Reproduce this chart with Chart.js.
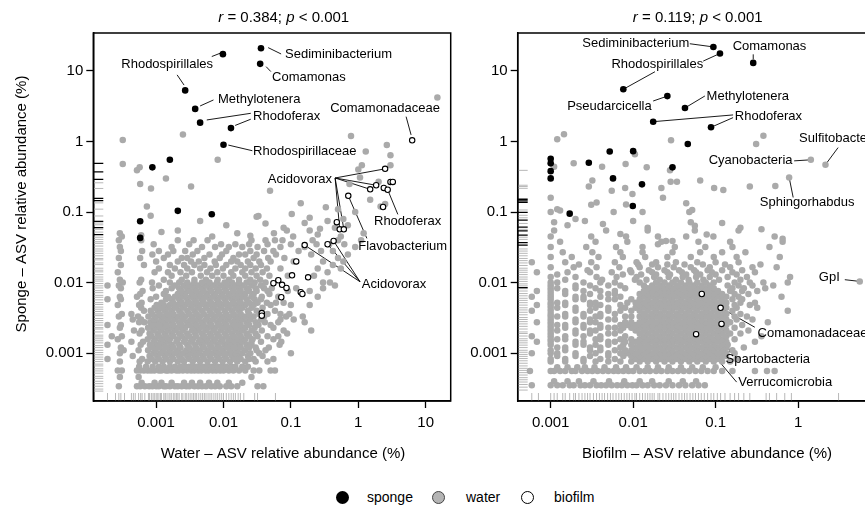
<!DOCTYPE html>
<html><head><meta charset="utf-8">
<script src="https://cdn.jsdelivr.net/npm/chart.js@4"></script>
<style>
html,body{margin:0;padding:0;background:#fff;overflow:hidden;width:865px;height:507px;position:relative;font-family:'Liberation Sans',Arial,Helvetica,sans-serif;}
canvas{position:absolute;top:0;}
#cA{left:0;}
#cB{left:460px;}
.lg{position:absolute;top:489px;height:16px;line-height:16px;font-size:14px;color:#000;white-space:nowrap;}
.dot{position:absolute;width:13px;height:13px;border-radius:50%;box-sizing:border-box;top:490.5px;}
</style></head><body>
<canvas id="cA" width="470" height="470"></canvas>
<canvas id="cB" width="430" height="470"></canvas>
<div class="dot" style="left:335.5px;background:#000;"></div><div class="lg" style="left:367px;">sponge</div>
<div class="dot" style="left:431.5px;background:#b4b4b4;border:1.3px solid #444;"></div><div class="lg" style="left:466px;">water</div>
<div class="dot" style="left:520.5px;background:#fff;border:1.3px solid #000;"></div><div class="lg" style="left:554px;">biofilm</div>
<script>
// ---------------- DATA ----------------
const decadeTicks = [0.001, 0.01, 0.1, 1, 10];
const decadeLabels = ['0.001', '0.01', '0.1', '1', '10'];

// Left panel: water (x) vs sponge (y). Gray cloud given as rows [sponge %, [water % ...]]
const waterCloud = [
 [0.00034,[0.00028,0.00052,0.00058,0.00068,0.00079,0.00088,0.001,0.0011,0.0013,0.0014,0.0016,0.0019,0.0021,0.0024,0.0028,0.0031,0.0037,0.0042,0.0048,0.0055,0.0066,0.0075,0.0088,0.011,0.013,0.016,0.032,0.039]],
 [0.00038,[0.00061,0.00095,0.0012,0.0017,0.0026,0.0034,0.0045,0.0061,0.0081,0.012,0.019]],
 [0.00046,[0.00029,0.00055,0.026]],
 [0.00057,[0.00027,0.00031,0.00052,0.00058,0.00066,0.00075,0.00084,0.00094,0.0011,0.0012,0.0014,0.0015,0.0017,0.002,0.0022,0.0025,0.0029,0.0033,0.0037,0.0042,0.0047,0.0054,0.006,0.0069,0.0078,0.0089,0.01,0.012,0.014,0.017,0.021,0.028,0.034,0.05,0.058]],
 [0.00064,[0.00056,0.00071,0.00089,0.0011,0.0013,0.0016,0.0019,0.0023,0.0027,0.0031,0.0035,0.004,0.0045,0.0051,0.0058,0.0066,0.0073,0.0083,0.0095,0.011,0.013,0.015,0.019,0.023]],
 [0.00076,[0.00029,0.00057,0.00075,0.00097,0.00125,0.0016,0.0021,0.0026,0.0035,0.0045,0.0058,0.0075,0.0097,0.0125,0.016,0.021,0.03,0.045]],
 [0.00091,[0.00045,0.0008,0.00104,0.00134,0.0017,0.0022,0.0029,0.0037,0.0049,0.0062,0.008,0.0104,0.0134,0.017,0.023,0.038]],
 [0.00083,[0.00019,0.00062,0.00086,0.0011,0.00142,0.0018,0.0024,0.0031,0.0041,0.0051,0.0066,0.0086,0.011,0.0145,0.018,0.024,0.028,0.055]],
 [0.001,[0.00029,0.00091,0.00117,0.0015,0.0019,0.0025,0.0032,0.0042,0.0054,0.007,0.0091,0.0117,0.015,0.019,0.025,0.034,0.1]],
 [0.0011,[0.00033,0.00055,0.00076,0.00098,0.00127,0.0016,0.0021,0.0028,0.0036,0.0045,0.0059,0.0077,0.0098,0.0127,0.016,0.021,0.031,0.042]],
 [0.00132,[0.00019,0.00059,0.00081,0.00104,0.0013,0.0017,0.0022,0.0029,0.0038,0.0048,0.0062,0.0081,0.0104,0.0132,0.017,0.022,0.026,0.068]],
 [0.0012,[0.0003,0.00088,0.0011,0.00143,0.0018,0.0023,0.0031,0.0039,0.0051,0.0067,0.0086,0.0112,0.0143,0.018,0.024,0.03,0.047]],
 [0.00145,[0.00043,0.00064,0.00092,0.00117,0.0015,0.002,0.0026,0.0033,0.0043,0.0055,0.007,0.0092,0.0118,0.015,0.019,0.026,0.036,0.072]],
 [0.00158,[0.00027,0.00075,0.00097,0.00125,0.0016,0.0021,0.0027,0.0035,0.0046,0.0058,0.0076,0.0097,0.0126,0.016,0.021,0.027,0.055]],
 [0.0019,[0.00057,0.0008,0.00105,0.00134,0.0017,0.0022,0.0029,0.0038,0.0048,0.0063,0.008,0.0105,0.0134,0.017,0.022,0.03,0.088]],
 [0.00174,[0.00022,0.00031,0.00086,0.0011,0.0014,0.0018,0.0024,0.0031,0.0039,0.0052,0.0066,0.0086,0.0111,0.0142,0.018,0.024,0.032,0.045,0.065]],
 [0.0021,[0.00047,0.00061,0.00091,0.00117,0.0015,0.0019,0.0025,0.0034,0.0042,0.0054,0.0071,0.0091,0.0117,0.015,0.019,0.026,0.037,0.078,0.2]],
 [0.0023,[0.00029,0.00076,0.00098,0.00127,0.0016,0.0021,0.0027,0.0036,0.0045,0.0059,0.0075,0.0099,0.0127,0.016,0.021,0.029,0.055]],
 [0.00275,[0.00056,0.00067,0.00082,0.00104,0.0013,0.0017,0.0022,0.0029,0.0037,0.0048,0.0062,0.0081,0.0104,0.0135,0.017,0.022,0.03,0.041,0.065,0.16]],
 [0.0025,[0.00019,0.0003,0.00088,0.00112,0.00143,0.0018,0.0024,0.0031,0.004,0.0051,0.0066,0.0087,0.0111,0.0144,0.018,0.024,0.033,0.05]],
 [0.003,[0.00045,0.0006,0.00093,0.0012,0.0015,0.0019,0.0025,0.0033,0.0042,0.0055,0.007,0.0091,0.0117,0.015,0.019,0.025,0.036,0.07,0.11]],
 [0.0033,[0.00028,0.00054,0.00077,0.001,0.00127,0.0016,0.0021,0.0027,0.0035,0.0045,0.0058,0.0076,0.0098,0.0125,0.016,0.021,0.028,0.04,0.085,0.15]],
 [0.004,[0.00066,0.00083,0.00106,0.00135,0.0017,0.0022,0.0029,0.0037,0.0048,0.0062,0.008,0.0104,0.0133,0.017,0.023,0.031,0.058]],
 [0.0036,[0.00031,0.00043,0.00088,0.00113,0.00145,0.0018,0.0024,0.0031,0.004,0.0051,0.0067,0.0086,0.011,0.0142,0.018,0.024,0.034,0.045,0.07,0.095]],
 [0.0044,[0.0006,0.00095,0.0012,0.0015,0.0019,0.0025,0.0033,0.0042,0.0055,0.007,0.009,0.0117,0.015,0.019,0.026,0.038]],
 [0.0048,[0.00027,0.00056,0.00102,0.0013,0.0016,0.0021,0.0027,0.0035,0.0045,0.0058,0.0075,0.0097,0.0125,0.016,0.021,0.028,0.05,0.1,0.19]],
 [0.0058,[0.00019,0.0003,0.00083,0.0014,0.0017,0.0022,0.0029,0.0037,0.0048,0.0062,0.008,0.0104,0.0134,0.017,0.022,0.029,0.036]],
 [0.0052,[0.00061,0.0012,0.0018,0.0024,0.0031,0.004,0.0051,0.0066,0.0086,0.011,0.0142,0.018,0.024,0.032,0.044,0.06,0.078]],
 [0.0063,[0.00029,0.00052,0.001,0.0015,0.0019,0.0025,0.0033,0.0042,0.0054,0.007,0.0091,0.0117,0.015,0.019,0.026,0.037,0.065,0.25]],
 [0.0069,[0.00058,0.0013,0.0021,0.0027,0.0035,0.0045,0.0058,0.0075,0.0097,0.0125,0.016,0.021,0.028,0.048]],
 [0.0083,[0.0003,0.00089,0.0017,0.0022,0.0029,0.0037,0.0048,0.0062,0.008,0.0104,0.0134,0.017,0.022,0.03,0.04,0.052,0.12,0.3]],
 [0.0076,[0.00063,0.0014,0.0024,0.0031,0.004,0.0051,0.0066,0.0086,0.011,0.0142,0.018,0.024,0.031,0.045,0.09,0.19]],
 [0.0091,[0.00019,0.00028,0.0011,0.0019,0.0026,0.0033,0.0042,0.0055,0.007,0.0091,0.0117,0.015,0.019,0.026,0.036,0.45]],
 [0.01,[0.00032,0.00057,0.00087,0.0016,0.0022,0.0029,0.0037,0.0048,0.0062,0.008,0.0104,0.0134,0.017,0.022,0.029,0.042,0.3,0.38]],
 [0.011,[0.00029,0.0006,0.0013,0.0024,0.0037,0.0055,0.0082,0.012,0.017,0.025,0.035]],
 [0.0125,[0.0017,0.0028,0.0046,0.0068,0.01,0.014,0.021,0.031,0.048,0.09,0.22]],
 [0.014,[0.00027,0.00095,0.0015,0.0023,0.0034,0.0057,0.0081,0.013,0.019,0.026,0.038,0.35]],
 [0.0158,[0.0011,0.0019,0.0029,0.0045,0.0064,0.0098,0.015,0.021,0.03,0.044,0.07,0.25,0.55]],
 [0.0178,[0.0003,0.00066,0.0016,0.0026,0.0037,0.0052,0.0077,0.011,0.018,0.025,0.036,0.42]],
 [0.02,[0.001,0.0021,0.0033,0.0043,0.0074,0.013,0.016,0.023,0.034,0.05,0.11,0.3,0.6]],
 [0.0224,[0.00028,0.00058,0.0013,0.0024,0.0029,0.0052,0.0088,0.014,0.028,0.046,0.08,0.5]],
 [0.025,[0.00088,0.0015,0.0035,0.0062,0.0095,0.017,0.021,0.031,0.06,0.2,0.7]],
 [0.028,[0.0003,0.00062,0.0011,0.0018,0.0027,0.0041,0.011,0.025,0.04,0.055,0.13,0.28,0.42]],
 [0.032,[0.00029,0.0017,0.0048,0.0075,0.012,0.019,0.032,0.07,0.16,0.9]],
 [0.035,[0.00092,0.0031,0.0092,0.015,0.024,0.045,0.1,0.24,0.37,0.62]],
 [0.04,[0.00028,0.0006,0.0021,0.0036,0.0058,0.026,0.042,0.058,0.075,0.21,0.5,1.1]]
];
// Left panel: scattered gray points above the cloud [water %, sponge %]
const waterScatter = [
 [0.00073,0.12],[0.00083,0.089],[0.0045,0.075],[0.011,0.065],[0.033,0.088],[0.042,0.069],[0.056,0.05],[0.087,0.055],
 [0.00029,0.05],[0.00031,0.045],[0.0006,0.047],[0.0012,0.052],[0.0021,0.055],[0.0068,0.045],[0.016,0.05],[0.025,0.046],
 [0.031,0.0856],[0.049,0.2],[0.078,0.06],[0.108,0.045],[0.19,0.055],[0.27,0.058],[0.14,0.133],[0.103,0.094],[0.19,0.083],[0.33,0.117],
 [1.5,0.15],[2.14,0.12],[2.5,0.13],[0.74,0.25],[2.0,0.27],[1.06,0.31],[1.0,0.4],[1.13,0.46],[1.29,0.72],[0.78,1.2],[2.65,0.89],[3.0,0.64],[3.0,0.46],[14.9,4.2],
 [0.00032,1.05],[0.00032,0.48],[0.00052,0.39],[0.00057,0.43],[0.00058,0.25],[0.00084,0.216],[0.0014,0.3],[0.0033,0.23],[0.0025,1.26],[0.0082,0.55],
 [0.45,0.06],[0.6,0.08],[0.9,0.1],[0.55,0.045],[0.35,0.075],[1.2,0.05],[0.25,0.048],[0.5,0.11],[0.16,0.07],[0.7,0.065]
];
const waterSponge = [[0.036,21],[0.035,12.6],[0.0098,17.3],[0.0027,5.3],[0.0038,2.9],[0.0045,1.85],[0.0129,1.55],[0.01,0.9],[0.00088,0.43],[0.0016,0.55],[0.0021,0.104],[0.0067,0.093],[0.00058,0.074],[0.00058,0.043]];
const waterBiofilm = [[6.3,1.04],[2.5,0.41],[1.84,0.24],[1.5,0.21],[2.39,0.22],[2.73,0.207],[3.0,0.267],[3.25,0.267],[2.33,0.118],[0.71,0.17],[0.48,0.072],[0.53,0.057],[0.61,0.057],[0.43,0.039],[0.35,0.035],[0.16,0.034],[0.12,0.02],[0.104,0.0127],[0.18,0.0119],[0.065,0.0108],[0.055,0.0098],[0.074,0.0093],[0.086,0.0084],[0.072,0.0062],[0.14,0.0073],[0.148,0.0069],[0.037,0.0037],[0.037,0.0034]];
const waterRugSpongeDark = [0.49,0.37,0.29,0.156,0.145,0.074,0.06,0.048];
const waterRugSponge = [0.26,0.216,0.135,0.11,0.088,0.07,0.066,0.057,0.052,0.044,0.041,0.038,0.036,0.033,0.03,0.028,0.026,0.024,0.022,0.021,0.019,0.018,0.016,0.015,0.0142,0.013,0.012,0.0112,0.0105,0.0097,0.009,0.0084,0.0077,0.0072,0.0066,0.0062,0.0057,0.0052,0.0049,0.0045,0.0042,0.0039,0.0036,0.0034,0.0031,0.0029,0.0027,0.0025,0.0023,0.0022,0.002,0.0018,0.0017,0.0016,0.0015,0.0014,0.00128,0.0012,0.0011,0.00102,0.00095,0.00088,0.00082,0.00076,0.0007,0.00066,0.0006,0.00056,0.00052,0.00047,0.00044,0.0004,0.00037,0.00034,0.00031,0.00029];
const waterRugWater = [0.00019,0.00025,0.00028,0.0003,0.00034,0.00043,0.00046,0.00049,0.00055,0.00059,0.00062,0.00068,0.00077,0.0008,0.00085,0.0009,0.00094,0.001,0.00104,0.0011,0.00116,0.0012,0.0013,0.00136,0.0014,0.0015,0.0016,0.00168,0.0018,0.0019,0.002,0.0021,0.0022,0.0024,0.0025,0.0027,0.0028,0.003,0.0032,0.0034,0.0036,0.0038,0.004,0.0043,0.0046,0.0049,0.0052,0.0055,0.0059,0.0063,0.0067,0.0072,0.0077,0.0082,0.0088,0.0094,0.01,0.011,0.012,0.013,0.014,0.015,0.0165,0.0178,0.02,0.029,0.032,0.059];

// Right panel: biofilm (x) vs sponge (y). Gray cloud rows [sponge %, [biofilm % ...]]
const biofilmCloud = [
 [0.00035,[0.00059,0.001,0.0012,0.0014,0.0017,0.0019,0.0023,0.0026,0.003,0.0036,0.0041,0.0047,0.0055,0.0064,0.0073,0.0085,0.0098,0.011,0.013,0.015,0.018,0.021,0.025,0.03,0.036,0.043,0.052,0.062,0.074]],
 [0.0004,[0.0011,0.0016,0.0022,0.0033,0.0051,0.0078,0.012,0.017,0.027,0.04,0.058]],
 [0.00056,[0.00056,0.001,0.0011,0.0013,0.0015,0.0018,0.002,0.0024,0.0028,0.0032,0.0037,0.0043,0.005,0.0058,0.0066,0.0076,0.0088,0.01,0.012,0.014,0.016,0.019,0.022,0.026,0.03,0.035,0.041,0.048,0.057,0.067,0.08,0.095,0.12,0.16,0.3,0.42,0.52]],
 [0.00063,[0.0012,0.0016,0.0021,0.0026,0.0034,0.0045,0.0062,0.0082,0.011,0.015,0.02,0.027,0.038,0.052,0.07,0.1]],
 [0.00076,[0.001,0.0015,0.0025,0.0035,0.005,0.007,0.0095,0.012,0.015,0.019,0.024,0.03,0.038,0.048,0.06,0.076,0.095,0.12,0.15]],
 [0.00083,[0.001,0.0015,0.0025,0.004,0.006,0.0107,0.0135,0.017,0.0214,0.027,0.034,0.043,0.054,0.068,0.085,0.107,0.18]],
 [0.00091,[0.0012,0.002,0.003,0.005,0.0076,0.0095,0.012,0.0152,0.019,0.024,0.03,0.038,0.048,0.06,0.076,0.095,0.12,0.134]],
 [0.001,[0.00059,0.001,0.0012,0.002,0.0035,0.005,0.007,0.0085,0.0107,0.0135,0.017,0.0214,0.027,0.034,0.043,0.054,0.068,0.085,0.107,0.135,0.17]],
 [0.0011,[0.001,0.0015,0.003,0.004,0.006,0.008,0.0095,0.012,0.015,0.019,0.024,0.03,0.038,0.048,0.06,0.076,0.095,0.12,0.16]],
 [0.0012,[0.0012,0.0015,0.003,0.004,0.007,0.0107,0.0135,0.017,0.0214,0.027,0.034,0.043,0.054,0.068,0.085,0.107,0.135,0.22]],
 [0.00132,[0.001,0.002,0.0025,0.0035,0.005,0.0076,0.0095,0.012,0.015,0.019,0.024,0.03,0.038,0.048,0.06,0.076,0.095,0.12,0.14]],
 [0.00145,[0.00068,0.001,0.002,0.0025,0.005,0.006,0.008,0.0107,0.0135,0.017,0.0214,0.027,0.034,0.043,0.054,0.068,0.085,0.107,0.135,0.3]],
 [0.00158,[0.001,0.0012,0.0015,0.0035,0.004,0.007,0.0095,0.012,0.015,0.019,0.024,0.03,0.038,0.048,0.06,0.076,0.095,0.12,0.17]],
 [0.00174,[0.00059,0.001,0.0015,0.0025,0.004,0.008,0.0135,0.017,0.0214,0.027,0.034,0.043,0.054,0.068,0.085,0.107,0.135,0.36]],
 [0.0019,[0.001,0.002,0.003,0.005,0.006,0.012,0.015,0.019,0.024,0.03,0.038,0.048,0.06,0.076,0.095,0.12,0.15,0.2]],
 [0.0021,[0.001,0.0012,0.002,0.003,0.0035,0.007,0.0107,0.0135,0.017,0.0214,0.027,0.034,0.043,0.054,0.068,0.085,0.107,0.135,0.25]],
 [0.0023,[0.001,0.0015,0.0025,0.004,0.005,0.006,0.0076,0.0095,0.012,0.015,0.019,0.024,0.03,0.038,0.048,0.06,0.076,0.095,0.12,0.17]],
 [0.0025,[0.001,0.0012,0.0015,0.0025,0.004,0.007,0.0085,0.0107,0.0135,0.017,0.0214,0.027,0.034,0.043,0.054,0.068,0.085,0.107,0.135,0.21]],
 [0.00275,[0.00068,0.001,0.002,0.003,0.0035,0.008,0.0095,0.012,0.015,0.019,0.024,0.03,0.038,0.048,0.06,0.076,0.095,0.12,0.15,0.43]],
 [0.003,[0.001,0.002,0.003,0.005,0.006,0.0135,0.017,0.0214,0.027,0.034,0.043,0.054,0.068,0.085,0.107,0.135,0.18,0.28]],
 [0.0033,[0.001,0.0012,0.0015,0.0025,0.0035,0.004,0.008,0.0095,0.012,0.015,0.019,0.024,0.03,0.038,0.048,0.06,0.076,0.095,0.12,0.17,0.24]],
 [0.0036,[0.001,0.0015,0.0025,0.004,0.006,0.0135,0.017,0.0214,0.027,0.034,0.043,0.054,0.068,0.085,0.107,0.135,0.2]],
 [0.004,[0.00059,0.001,0.002,0.003,0.005,0.007,0.0095,0.012,0.015,0.019,0.024,0.03,0.038,0.048,0.06,0.076,0.095,0.12,0.16,0.75]],
 [0.0044,[0.001,0.0012,0.002,0.0035,0.005,0.008,0.0107,0.0135,0.017,0.0214,0.027,0.034,0.043,0.054,0.068,0.085,0.107,0.135,0.18,0.32]],
 [0.0048,[0.00068,0.001,0.0015,0.003,0.004,0.007,0.012,0.015,0.019,0.024,0.03,0.038,0.048,0.06,0.076,0.095,0.12,0.17,0.26]],
 [0.0052,[0.001,0.0012,0.0015,0.003,0.0035,0.0085,0.0107,0.0135,0.017,0.0214,0.027,0.034,0.043,0.054,0.068,0.085,0.107,0.135,0.2,0.3]],
 [0.0058,[0.001,0.002,0.0025,0.005,0.006,0.0095,0.012,0.015,0.019,0.024,0.03,0.038,0.048,0.06,0.076,0.095,0.12,0.16,0.21]],
 [0.0063,[0.00059,0.001,0.002,0.0025,0.004,0.007,0.0135,0.017,0.0214,0.027,0.034,0.043,0.054,0.068,0.085,0.107,0.135,0.19,0.63]],
 [0.0069,[0.001,0.0015,0.003,0.005,0.006,0.012,0.015,0.019,0.024,0.03,0.038,0.048,0.06,0.076,0.095,0.12,0.17,0.25]],
 [0.0076,[0.00068,0.001,0.0015,0.0025,0.004,0.006,0.0135,0.017,0.0214,0.027,0.034,0.043,0.054,0.068,0.085,0.107,0.15,0.21,0.32]],
 [0.0083,[0.001,0.0012,0.002,0.0035,0.008,0.015,0.019,0.024,0.03,0.038,0.048,0.06,0.076,0.095,0.16,0.22,0.4]],
 [0.0091,[0.001,0.002,0.003,0.005,0.007,0.0135,0.017,0.0214,0.027,0.034,0.043,0.054,0.068,0.085,0.14,0.19,0.28,0.5]],
 [0.01,[0.001,0.0012,0.0025,0.004,0.006,0.012,0.019,0.024,0.03,0.038,0.048,0.06,0.076,0.095,0.17,0.26,0.38,0.75]],
 [0.011,[0.0015,0.0042,0.0105,0.0145,0.021,0.033,0.047,0.071,0.11,0.2]],
 [0.012,[0.001,0.002,0.0036,0.0063,0.011,0.018,0.027,0.04,0.058,0.085,0.14,0.24,0.8]],
 [0.013,[0.0012,0.0075,0.0125,0.019,0.028,0.044,0.065,0.1,0.18]],
 [0.014,[0.00068,0.0016,0.003,0.0055,0.0095,0.017,0.026,0.039,0.058,0.09,0.16,0.3]],
 [0.015,[0.0028,0.0092,0.0155,0.024,0.036,0.055,0.08,0.12,0.21]],
 [0.0165,[0.001,0.0019,0.0036,0.0068,0.012,0.02,0.031,0.05,0.085,0.15,0.28,0.55]],
 [0.018,[0.0022,0.0115,0.017,0.026,0.042,0.07,0.13,0.35]],
 [0.0195,[0.00059,0.0015,0.0031,0.006,0.011,0.019,0.033,0.06,0.1,0.19]],
 [0.023,[0.001,0.0018,0.0038,0.0075,0.014,0.026,0.05,0.095,0.18,0.6]],
 [0.027,[0.0014,0.0032,0.007,0.013,0.03,0.065,0.12,0.23]],
 [0.032,[0.001,0.0027,0.0062,0.013,0.032,0.075,0.16,0.45]],
 [0.038,[0.0013,0.0035,0.0085,0.022,0.062,0.15,0.65]],
 [0.045,[0.001,0.0031,0.0082,0.02,0.044,0.094,0.52]],
 [0.055,[0.0011,0.0047,0.015,0.056,0.19]]
];
const biofilmScatter = [
 [0.0012,1.08],[0.00145,1.27],[0.0011,0.44],[0.0019,0.49],[0.0042,0.44],[0.0081,0.48],[0.0105,0.66],[0.0146,0.43],[0.0288,1.04],[0.028,0.39],[0.0285,0.27],[0.034,0.27],[0.065,0.28],[0.096,0.22],[0.124,0.205],[0.26,0.23],[0.53,0.235],[0.31,0.92],[0.38,1.21],
 [0.78,0.31],[1.43,0.55],[2.15,0.47],[5.6,0.0104],
 [0.0029,0.23],[0.0032,0.28],[0.001,0.16],[0.001,0.1],[0.0012,0.11],[0.0013,0.105],[0.0031,0.127],[0.0036,0.137],[0.0055,0.2],[0.0058,0.1],[0.008,0.22],[0.0082,0.128],[0.0098,0.18],[0.013,0.1],[0.022,0.22],[0.023,0.16],[0.044,0.133],[0.052,0.107],
 [0.002,0.08],[0.0026,0.075],[0.0043,0.068],[0.007,0.049],[0.01,0.075],[0.02,0.035],[0.025,0.039],[0.03,0.039],[0.048,0.1],[0.05,0.072],[0.056,0.064],[0.078,0.048],[0.36,0.057],[0.65,0.042],[0.0016,0.065],[0.0011,0.072],[0.015,0.06],[0.12,0.07],[0.2,0.06]
];
const biofilmSponge = [[0.094,21.9],[0.113,17.7],[0.286,13],[0.0076,5.5],[0.026,4.4],[0.0425,2.99],[0.0175,1.91],[0.088,1.59],[0.046,0.92],[0.001,0.57],[0.001,0.49],[0.001,0.38],[0.001,0.3],[0.0029,0.5],[0.0052,0.72],[0.01,0.73],[0.0057,0.3],[0.0128,0.247],[0.03,0.43],[0.0099,0.122],[0.0017,0.095]];
const biofilmBiofilm = [[0.068,0.0069],[0.115,0.0044],[0.118,0.0026],[0.058,0.00186]];
const biofilmRugSpongeDark = [0.152,0.144,0.137,0.099,0.077,0.061,0.054,0.047,0.037,0.034,0.0085];
const biofilmRugSponge = [0.39,0.24,0.23,0.217,0.107,0.09,0.083,0.069,0.057,0.044,0.041,0.03,0.028,0.026,0.024,0.022,0.0205,0.019,0.0175,0.016,0.015,0.014,0.013,0.012,0.0112,0.0104,0.0096,0.009,0.0082,0.0076,0.007,0.0065,0.006,0.0056,0.0052,0.0048,0.0044,0.0041,0.0038,0.0035,0.0032,0.003,0.0028,0.0026,0.0024,0.0022,0.002,0.0019,0.00175,0.0016,0.0015,0.0014,0.0013,0.0012,0.0011,0.00103,0.00096,0.0009,0.00084,0.00078,0.00072,0.00066,0.00061,0.00057,0.00053,0.00049,0.00045,0.00042,0.00039,0.00036,0.00033,0.0003];
const biofilmRugBiofilm = [0.00059,0.00071,0.001,0.0011,0.0012,0.0014,0.0015,0.0017,0.0019,0.002,0.0022,0.0024,0.0026,0.0028,0.003,0.0033,0.0036,0.0039,0.0042,0.0045,0.0049,0.0053,0.0057,0.0062,0.0067,0.0072,0.0078,0.0084,0.009,0.0097,0.0105,0.011,0.012,0.013,0.014,0.015,0.016,0.017,0.018,0.02,0.021,0.023,0.025,0.027,0.029,0.031,0.033,0.036,0.039,0.042,0.045,0.049,0.053,0.057,0.062,0.067,0.073,0.08,0.088,0.095,0.105,0.115,0.13,0.15,0.17,0.19,0.22,0.26,0.41,0.45,0.55,0.69,0.83,3.1];

// Annotations: label anchor (data coords) and leader lines [x1,y1,x2,y2]
const waterNotes = [
 {text:'Sediminibacterium', x:0.082, y:16.9, align:'left', lines:[[0.046,21.4,0.0716,17.4]]},
 {text:'Rhodospirillales', x:0.0070, y:12.2, align:'right', lines:[[0.0067,16.0,0.0089,17.8],[0.00205,8.8,0.0026,6.3]]},
 {text:'Comamonas', x:0.0526, y:8.2, align:'left', lines:[[0.0429,11.5,0.0504,9.8]]},
 {text:'Methylotenera', x:0.0083, y:4.0, align:'left', lines:[[0.0045,3.19,0.0071,3.88]]},
 {text:'Rhodoferax', x:0.0275, y:2.3, align:'left', lines:[[0.0254,2.51,0.00565,2.02],[0.0254,2.07,0.0149,1.69]]},
 {text:'Rhodospirillaceae', x:0.0275, y:0.733, align:'left', lines:[[0.0118,0.89,0.0268,0.74]]},
 {text:'Comamonadaceae', x:0.382, y:2.99, align:'left', lines:[[5.12,2.25,6.07,1.24]]},
 {text:'Acidovorax', x:0.408, y:0.293, align:'right', lines:[[0.453,0.304,2.5,0.41],[0.453,0.304,1.84,0.24],[0.453,0.304,1.5,0.21],[0.453,0.304,0.53,0.057],[0.453,0.304,0.61,0.057]]},
 {text:'Rhodoferax', x:1.71, y:0.0745, align:'left', lines:[[2.73,0.207,3.86,0.0927]]},
 {text:'Flavobacterium', x:1.0, y:0.033, align:'left', lines:[[0.71,0.17,1.34,0.0424]]},
 {text:'Acidovorax', x:1.13, y:0.00942, align:'left', lines:[[1.06,0.0103,0.16,0.034],[1.06,0.0103,0.35,0.035],[1.06,0.0103,0.43,0.039]]}
];
const biofilmNotes = [
 {text:'Sediminibacterium', x:0.0479, y:24.8, align:'right', lines:[[0.0487,24.3,0.094,21.9]]},
 {text:'Rhodospirillales', x:0.0708, y:12.5, align:'right', lines:[[0.0708,13.8,0.113,17.7],[0.0184,9.75,0.0076,5.5]]},
 {text:'Comamonas', x:0.161, y:22.5, align:'left', lines:[[0.286,17.2,0.286,14.6]]},
 {text:'Pseudarcicella', x:0.0168, y:3.19, align:'right', lines:[[0.0175,3.75,0.026,4.4]]},
 {text:'Methylotenera', x:0.0778, y:4.42, align:'left', lines:[[0.0425,2.99,0.0742,4.42]]},
 {text:'Rhodoferax', x:0.171, y:2.3, align:'left', lines:[[0.163,2.38,0.0175,1.91],[0.163,2.18,0.088,1.59]]},
 {text:'Cyanobacteria', x:0.857, y:0.532, align:'right', lines:[[0.897,0.532,1.43,0.55]]},
 {text:'Sulfitobacter', x:1.03, y:1.12, align:'left', lines:[[3.06,0.82,2.15,0.47]]},
 {text:'Sphingorhabdus', x:0.344, y:0.135, align:'left', lines:[[0.873,0.161,0.78,0.31]]},
 {text:'GpI', x:3.21, y:0.0118, align:'right', lines:[[3.69,0.011,5.6,0.0104]]},
 {text:'Comamonadaceae', x:0.323, y:0.0019, align:'left', lines:[[0.299,0.00233,0.115,0.0044]]},
 {text:'Spartobacteria', x:0.132, y:0.000807, align:'left', lines:[[0.136,0.00098,0.068,0.0069],[0.149,0.00103,0.118,0.0026]]},
 {text:'Verrucomicrobia', x:0.188, y:0.000385, align:'left', lines:[[0.18,0.000389,0.058,0.00186]]}
];
const waterTitle = [['r',true],[' = 0.384; ',false],['p',true],[' < 0.001',false]];
const biofilmTitle = [['r',true],[' = 0.119; ',false],['p',true],[' < 0.001',false]];

// ---------------- RENDER ----------------
const FONT = "'Liberation Sans', Arial, Helvetica, sans-serif";
const GRAY = '#aaaaaa';
const pairs = a => a.map(([x, y]) => ({x, y}));
const rows = r => r.flatMap(([y, xs]) => xs.map(x => ({x, y})));

const deco = {
  id: 'deco',
  beforeDatasetsDraw(chart, args, o) {
    const {ctx, scales: {x, y}} = chart;
    ctx.save();
    ctx.strokeStyle = '#000'; ctx.lineWidth = 0.9;
    o.notes.forEach(n => n.lines.forEach(l => {
      ctx.beginPath();
      ctx.moveTo(x.getPixelForValue(l[0]), y.getPixelForValue(l[1]));
      ctx.lineTo(x.getPixelForValue(l[2]), y.getPixelForValue(l[3]));
      ctx.stroke();
    }));
    ctx.restore();
  },
  afterDatasetsDraw(chart, args, o) {
    const {ctx, chartArea: a, scales: {x, y}} = chart;
    ctx.save();
    ctx.fillStyle = '#000'; ctx.font = '13px ' + FONT; ctx.textBaseline = 'middle';
    o.notes.forEach(n => {
      ctx.textAlign = n.align;
      ctx.fillText(n.text, x.getPixelForValue(n.x), y.getPixelForValue(n.y));
    });
    ctx.strokeStyle = '#000'; ctx.lineWidth = 1.5;
    ctx.strokeRect(a.left, a.top, a.right - a.left, a.bottom - a.top);
    ctx.textAlign = 'left';
    const parts = o.title.parts.map(([t, it]) => { ctx.font = (it ? 'italic ' : '') + '15px ' + FONT; return [t, it, ctx.measureText(t).width]; });
    let tx = o.title.cx - parts.reduce((s, p) => s + p[2], 0) / 2;
    parts.forEach(([t, it, w]) => { ctx.font = (it ? 'italic ' : '') + '15px ' + FONT; ctx.fillText(t, tx, o.title.cy); tx += w; });
    ctx.font = '15px ' + FONT; ctx.textAlign = 'center';
    ctx.fillText(o.xTitle.text, o.xTitle.cx, o.xTitle.cy);
    if (o.yTitle) {
      ctx.translate(o.yTitle.cx, o.yTitle.cy); ctx.rotate(-Math.PI / 2);
      ctx.fillText(o.yTitle.text, 0, 0);
    }
    ctx.restore();
  }
};

function makeChart(id, cfg) {
  const rugY = (vals, color, w) => ({data: vals.map(v => ({x: cfg.xMin, y: v})), pointStyle: 'line', pointRadius: 10, pointBorderColor: color, pointBorderWidth: w, clip: 0});
  const rugX = (vals, color, w) => ({data: vals.map(v => ({x: v, y: cfg.yMin})), pointStyle: 'line', pointRotation: 90, pointRadius: 8, pointBorderColor: color, pointBorderWidth: w, clip: 0});
  const axisCommon = {
    type: 'logarithmic', bounds: 'data',
    grid: {drawOnChartArea: false, drawTicks: true, tickLength: 7, tickColor: '#000', tickWidth: 1.3, color: '#000'},
    border: {display: true, color: '#000', width: 1.5}
  };
  return new Chart(document.getElementById(id), {
    type: 'scatter',
    data: {datasets: [
      {label: 'sponge', data: pairs(cfg.sponge), pointRadius: 3.3, pointBackgroundColor: '#000', pointBorderWidth: 0, clip: 0},
      {label: 'biofilm', data: pairs(cfg.biofilm), pointRadius: 2.7, pointBackgroundColor: '#fff', pointBorderColor: '#000', pointBorderWidth: 1.1, clip: 0},
      {label: 'water', data: rows(cfg.cloud).concat(pairs(cfg.scatter)), pointRadius: 3.25, pointBackgroundColor: GRAY, pointBorderWidth: 0, clip: 0},
      rugY(cfg.rugYDark, '#000', 1.3),
      rugY(cfg.rugY, '#b8b8b8', 1),
      rugX(cfg.rugX, '#b8b8b8', 1)
    ]},
    options: {
      responsive: false, animation: false, events: [],
      layout: {padding: {top: 33, right: cfg.padRight, bottom: 0, left: 0}},
      plugins: {legend: {display: false}, tooltip: {enabled: false}, deco: cfg.deco},
      scales: {
        x: Object.assign({}, axisCommon, {
          min: cfg.xMin, max: cfg.xMax,
          afterBuildTicks: ax => { ax.ticks = decadeTicks.filter(v => v >= cfg.xMin && v <= cfg.xMax).map(v => ({value: v})); },
          afterFit: ax => { ax.height = 69; },
          ticks: {autoSkip: false, maxRotation: 0, padding: 6, color: '#000', font: {family: FONT, size: 15},
                  callback: v => decadeLabels[decadeTicks.indexOf(v)]}
        }),
        y: Object.assign({}, axisCommon, {
          min: cfg.yMin, max: cfg.yMax,
          afterBuildTicks: ax => { ax.ticks = decadeTicks.map(v => ({value: v})); },
          afterFit: ax => { ax.width = cfg.yAxisWidth; },
          ticks: {autoSkip: false, padding: 3, color: '#000', font: {family: FONT, size: 15},
                  callback: v => decadeLabels[decadeTicks.indexOf(v)]}
        })
      }
    },
    plugins: [deco]
  });
}

makeChart('cA', {
  cloud: waterCloud, scatter: waterScatter, sponge: waterSponge, biofilm: waterBiofilm,
  rugYDark: waterRugSpongeDark, rugY: waterRugSponge, rugX: waterRugWater,
  xMin: 0.000117, xMax: 23.5, yMin: 0.00021, yMax: 34.5, yAxisWidth: 93.3, padRight: 19.3,
  deco: {notes: waterNotes, title: {parts: waterTitle, cx: 283.7, cy: 18},
         xTitle: {text: 'Water – ASV relative abundance (%)', cx: 283, cy: 454},
         yTitle: {text: 'Sponge – ASV relative abundance (%)', cx: 21.5, cy: 204}}
});
makeChart('cB', {
  cloud: biofilmCloud, scatter: biofilmScatter, sponge: biofilmSponge, biofilm: biofilmBiofilm,
  rugYDark: biofilmRugSpongeDark, rugY: biofilmRugSponge, rugX: biofilmRugBiofilm,
  xMin: 0.000398, xMax: 8.6, yMin: 0.00021, yMax: 34.5, yAxisWidth: 57.7, padRight: 14.9,
  deco: {notes: biofilmNotes, title: {parts: biofilmTitle, cx: 237.7, cy: 18},
         xTitle: {text: 'Biofilm – ASV relative abundance (%)', cx: 247, cy: 454},
         yTitle: null}
});
</script>
</body></html>
